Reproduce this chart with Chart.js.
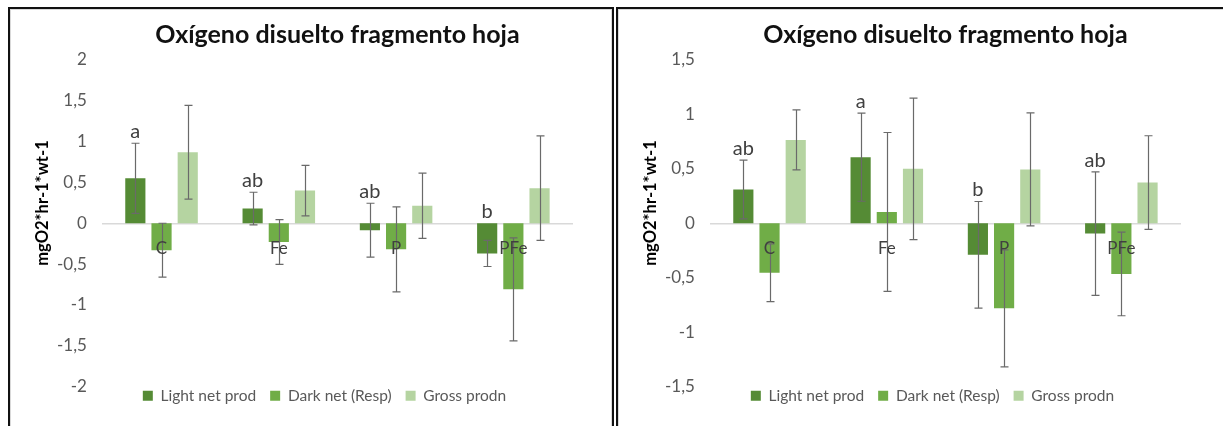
<!DOCTYPE html>
<html>
<head>
<meta charset="utf-8">
<script src="https://cdn.jsdelivr.net/npm/chart.js@4.4.1/dist/chart.umd.min.js"></script>
<style>
  html, body { margin: 0; padding: 0; background: #fff; width: 1223px; height: 426px; overflow: hidden; }
  .panel { position: absolute; top: 7px; height: 430px; box-sizing: border-box;
           border-top: 2px solid #111; border-left: 2px solid #111; }
  #p1 { left: 8px; width: 606px; border-right: 2px solid #111; }
  #p2 { left: 616px; width: 620px; }
  .inner { position: absolute; left: 0; top: 0; right: 0; bottom: 0;
           border-top: 1px solid #d9d9d9; border-left: 1px solid #d9d9d9; }
  #p1 .inner { border-right: 1px solid #d9d9d9; }
  .box { position: absolute; left: 0; top: 0; width: 600px; height: 417px; }
</style>
</head>
<body>
<div class="panel" id="p1"><div class="inner"></div><div class="box"><canvas id="c1" width="600" height="417"></canvas></div></div>
<div class="panel" id="p2"><div class="inner"></div><div class="box"><canvas id="c2" width="600" height="417"></canvas></div></div>
<script>
// Treatments and series
const CATEGORIES = ['C', 'Fe', 'P', 'PFe'];
const SERIES_NAMES = ['Light net prod', 'Dark net (Resp)', 'Gross prodn'];
const SERIES_COLORS = ['#558b35', '#70ad47', '#b5d4a1'];
const TITLE = 'Oxígeno disuelto fragmento hoja';
const Y_TITLE = 'mgO2*hr-1*wt-1';

// First assay
const light1 = [0.55, 0.18, -0.085, -0.37];
const lightErr1 = [0.43, 0.20, 0.33, 0.16];
const dark1 = [-0.33, -0.23, -0.32, -0.81];
const darkErr1 = [0.33, 0.275, 0.52, 0.63];
const gross1 = [0.87, 0.40, 0.215, 0.43];
const grossErr1 = [0.575, 0.31, 0.40, 0.64];
const letters1 = ['a', 'ab', 'ab', 'b'];
const yTicks1 = [-2, -1.5, -1, -0.5, 0, 0.5, 1, 1.5, 2];

// Second assay
const light2 = [0.31, 0.607, -0.29, -0.095];
const lightErr2 = [0.27, 0.405, 0.49, 0.567];
const dark2 = [-0.455, 0.104, -0.782, -0.466];
const darkErr2 = [0.265, 0.73, 0.537, 0.384];
const gross2 = [0.766, 0.50, 0.495, 0.374];
const grossErr2 = [0.275, 0.65, 0.52, 0.43];
const letters2 = ['ab', 'a', 'b', 'ab'];
const yTicks2 = [-1.5, -1, -0.5, 0, 0.5, 1, 1.5];

const FONT = 'Lato, "Open Sans", sans-serif';

const fmtTick = v => String(v).replace('.', ',');

// Error bars (symmetric) on every bar, drawn from the dataset's errors
const errorBars = {
  id: 'errorBars',
  afterDatasetsDraw(chart) {
    const ctx = chart.ctx, y = chart.scales.y;
    ctx.save();
    ctx.strokeStyle = '#6a6a6a';
    ctx.lineWidth = 1.2;
    chart.data.datasets.forEach((ds, i) => {
      const meta = chart.getDatasetMeta(i);
      meta.data.forEach((bar, j) => {
        const v = ds.data[j], e = ds.errors[j];
        const x = Math.round(bar.x) + 0.5;
        const yt = y.getPixelForValue(v + e), yb = y.getPixelForValue(v - e);
        ctx.beginPath();
        ctx.moveTo(x, yt); ctx.lineTo(x, yb);
        ctx.moveTo(x - 4, yt); ctx.lineTo(x + 4, yt);
        ctx.moveTo(x - 4, yb); ctx.lineTo(x + 4, yb);
        ctx.stroke();
      });
    });
    ctx.restore();
  }
};

// Significance letters above the light-net-production bars
const sigLetters = {
  id: 'sigLetters',
  afterDatasetsDraw(chart, args, opts) {
    const ctx = chart.ctx, y = chart.scales.y;
    const ds = chart.data.datasets[0];
    const meta = chart.getDatasetMeta(0);
    ctx.save();
    ctx.fillStyle = '#404040';
    ctx.font = '20px ' + FONT;
    ctx.textAlign = 'center';
    ctx.textBaseline = 'alphabetic';
    meta.data.forEach((bar, j) => {
      const top = Math.max(ds.data[j] + ds.errors[j], 0);
      ctx.fillText(opts.letters[j], bar.x, y.getPixelForValue(top) - 5);
    });
    ctx.restore();
  }
};

// Rotated value-axis title
const yTitle = {
  id: 'yTitle',
  afterDraw(chart, args, opts) {
    const ctx = chart.ctx;
    ctx.save();
    ctx.translate(opts.x, opts.y);
    ctx.rotate(-Math.PI / 2);
    ctx.fillStyle = '#000';
    ctx.font = 'bold 16.5px ' + FONT;
    ctx.textAlign = 'center';
    ctx.textBaseline = 'middle';
    ctx.fillText(Y_TITLE, 0, 0);
    ctx.restore();
  }
};

// Nudge the legend closer to the plot
const legendNudge = {
  id: 'legendNudge',
  afterLayout(chart, args, opts) {
    const lg = chart.legend;
    lg.top -= opts.dy;
    lg.bottom -= opts.dy;
    lg.left += opts.dx;
    lg.right += opts.dx;
  }
};

function buildChart(canvasId, s) {
  const series = [
    [s.light, s.lightErr],
    [s.dark, s.darkErr],
    [s.gross, s.grossErr]
  ];
  return new Chart(document.getElementById(canvasId), {
    type: 'bar',
    data: {
      labels: CATEGORIES,
      datasets: series.map((p, i) => ({
        label: SERIES_NAMES[i],
        data: p[0],
        errors: p[1],
        backgroundColor: SERIES_COLORS[i],
        borderWidth: 0,
        categoryPercentage: 0.67,
        barPercentage: 0.77
      }))
    },
    plugins: [errorBars, sigLetters, yTitle, legendNudge],
    options: {
      responsive: false,
      animation: false,
      events: [],
      layout: { padding: { left: 31, right: 38, top: 0, bottom: 0 } },
      scales: {
        x: {
          type: 'category',
          position: { y: 0 },
          grid: { display: false, drawTicks: false },
          border: { display: true, color: '#d9d9d9', width: 1.5 },
          ticks: { padding: 15, color: '#404040', font: { family: FONT, size: 17 }, z: 1 }
        },
        y: {
          min: s.yTicks[0],
          max: s.yTicks[s.yTicks.length - 1],
          afterBuildTicks: axis => { axis.ticks = s.yTicks.map(v => ({ value: v })); },
          grid: { display: false, drawTicks: false },
          border: { display: false },
          ticks: { padding: 16, color: '#595959', font: { family: FONT, size: 17 }, callback: fmtTick }
        }
      },
      plugins: {
        title: {
          display: true,
          text: TITLE,
          fullSize: false,
          color: '#111',
          font: { family: FONT, size: 25, weight: 'bold' },
          padding: { top: 11, bottom: 10 }
        },
        legend: {
          position: 'bottom',
          labels: {
            boxWidth: 10, boxHeight: 10, padding: 14,
            color: '#595959',
            font: { family: FONT, size: 15.5 }
          }
        },
        tooltip: { enabled: false },
        sigLetters: { letters: s.letters },
        yTitle: { x: 33, y: 194 },
        legendNudge: { dx: 18, dy: 12.5 }
      }
    }
  });
}

buildChart('c1', {
  light: light1, lightErr: lightErr1, dark: dark1, darkErr: darkErr1,
  gross: gross1, grossErr: grossErr1, letters: letters1, yTicks: yTicks1
});
buildChart('c2', {
  light: light2, lightErr: lightErr2, dark: dark2, darkErr: darkErr2,
  gross: gross2, grossErr: grossErr2, letters: letters2, yTicks: yTicks2
});
</script>
</body>
</html>
